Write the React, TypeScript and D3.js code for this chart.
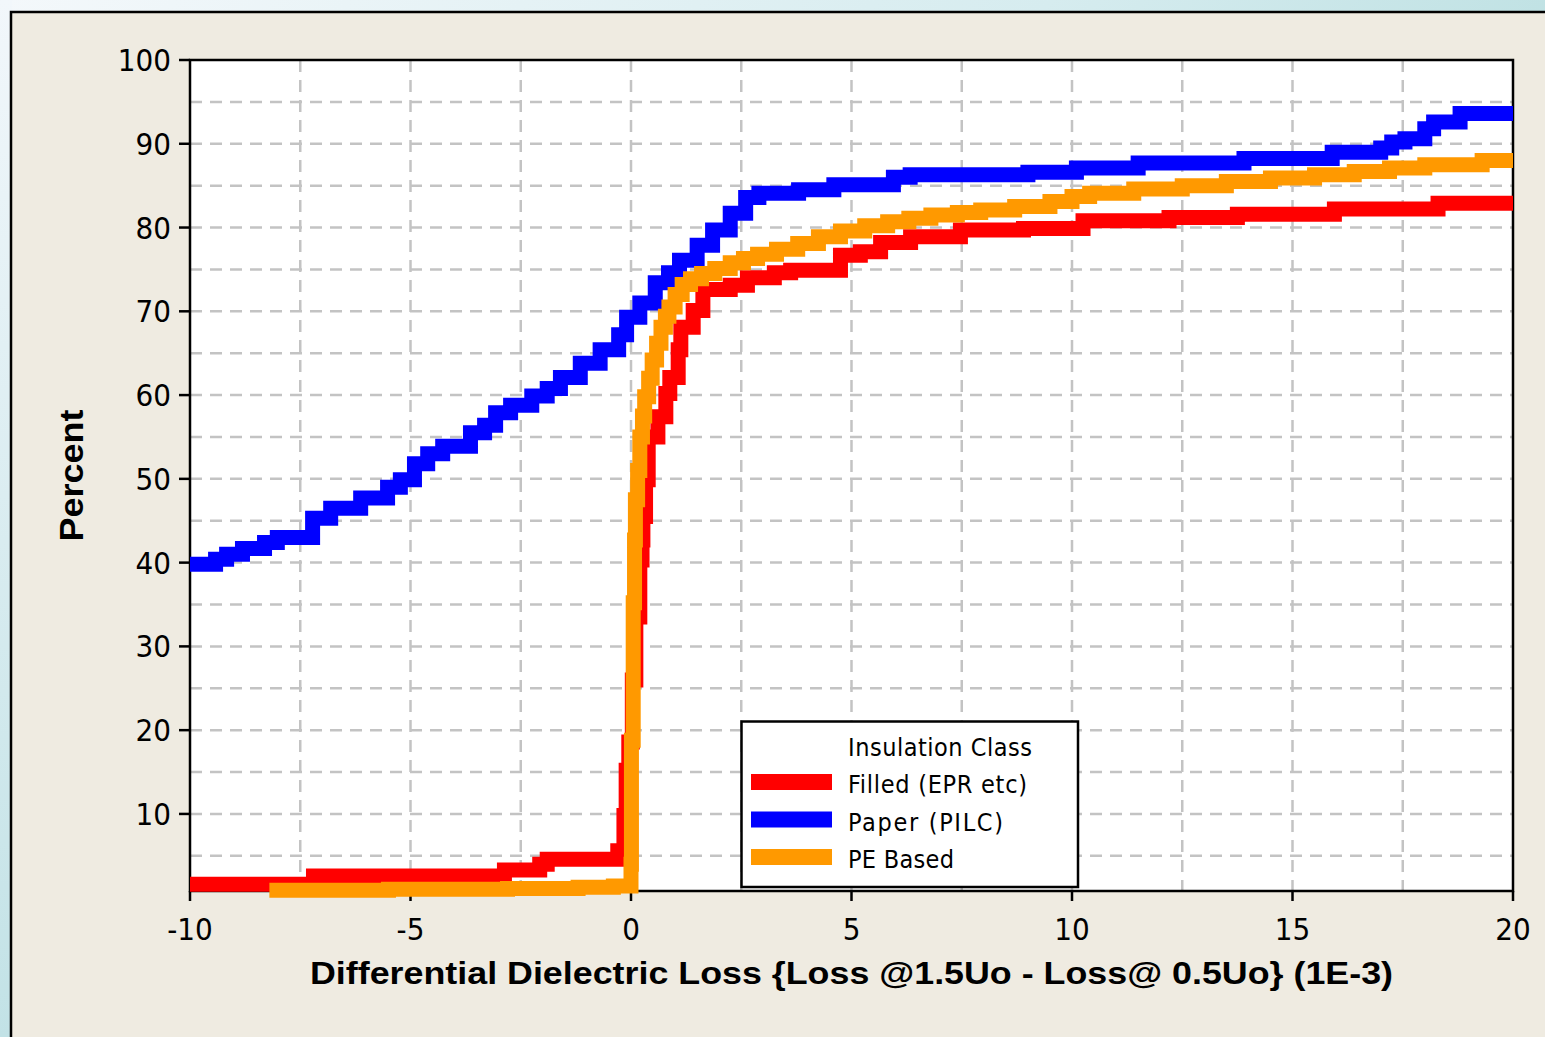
import React from "react";
import * as d3 from "d3";

// ---- data (x: differential loss 1E-3, p: cumulative percent) ----
const filledSeries: [number, number][] = [
  [-10, 1.6], [-7.2, 2.6], [-2.87, 3.3], [-2.07, 4.0], [-1.9, 4.6], [-0.3, 5.6],
  [-0.16, 9.8], [-0.11, 15.2], [-0.05, 18.6], [0.03, 26], [0.11, 33.5], [0.2, 40.3],
  [0.25, 42.7], [0.27, 45.5], [0.33, 49.9], [0.39, 55.0], [0.61, 57.4], [0.79, 60.2],
  [0.88, 62.1], [1.07, 65.4], [1.13, 68.1], [1.41, 70.1], [1.63, 72.6], [2.25, 73.1],
  [2.64, 74.0], [3.25, 74.6], [3.62, 74.9], [4.75, 76.7], [5.2, 77.1], [5.66, 78.2],
  [6.34, 78.9], [7.47, 79.7], [8.9, 79.9], [10.25, 80.8], [12.2, 81.2], [13.75, 81.6],
  [15.95, 82.2], [18.3, 82.9], [20, 82.9],
];

const paperSeries: [number, number][] = [
  [-10, 39.8], [-9.42, 40.4], [-9.17, 41.0], [-8.81, 41.7], [-8.31, 42.4], [-8.02, 43.0],
  [-7.22, 45.3], [-6.81, 46.5], [-6.13, 47.7], [-5.52, 49.0], [-5.23, 49.9], [-4.91, 51.8],
  [-4.61, 53.0], [-4.27, 53.9], [-3.64, 55.5], [-3.32, 56.4], [-3.07, 57.9], [-2.73, 58.8],
  [-2.25, 59.9], [-1.9, 60.8], [-1.6, 62.1], [-1.15, 63.8], [-0.7, 65.4], [-0.28, 67.2],
  [-0.1, 69.3], [0.2, 71.0], [0.55, 73.4], [0.85, 74.6], [1.1, 76.1], [1.5, 77.9],
  [1.85, 79.7], [2.25, 81.7], [2.6, 83.6], [2.9, 84.1], [3.8, 84.5], [4.6, 85.1],
  [5.95, 86.0], [6.33, 86.3], [9.0, 86.6], [10.1, 87.1], [11.5, 87.7], [13.9, 88.25],
  [15.9, 89.0], [17.0, 89.5], [17.25, 90.2], [17.55, 90.6], [18.0, 91.8], [18.2, 92.6],
  [18.8, 93.6], [20, 93.6],
];

const peSeries: [number, number][] = [
  [-8.2, 0.9], [-5.5, 1.0], [-2.8, 1.1], [-1.2, 1.25], [-0.4, 1.4], [0.0, 4.0],
  [0.01, 18.8], [0.05, 35.2], [0.08, 42.7], [0.1, 47.5], [0.15, 51], [0.2, 55],
  [0.26, 57.5], [0.31, 59.8], [0.4, 62], [0.48, 64.2], [0.58, 66.2], [0.68, 68.1],
  [0.78, 69.4], [0.86, 70.5], [1.0, 72], [1.16, 73.2], [1.35, 73.9], [1.6, 74.5],
  [1.9, 75.1], [2.25, 75.8], [2.55, 76.3], [2.87, 76.8], [3.3, 77.4], [3.78, 78.1],
  [4.25, 78.9], [4.75, 79.6], [5.3, 80.2], [5.82, 80.7], [6.3, 81.1], [6.8, 81.5],
  [7.4, 81.8], [7.93, 82.1], [8.7, 82.5], [9.5, 83.1], [10.0, 83.7], [10.4, 84.1],
  [11.4, 84.6], [12.5, 85.0], [13.5, 85.5], [14.5, 85.9], [15.5, 86.3], [16.4, 86.7],
  [17.2, 87.1], [18.0, 87.5], [19.3, 88.0], [20, 88.0],
];

const seriesNames = ["Filled (EPR etc)", "Paper (PILC)", "PE Based"];
const seriesColors = ["#ff0000", "#0000ff", "#ff9900"];
const legendTitle = "Insulation Class";
const xTicks = [-10, -5, 0, 5, 10, 15, 20];
const yTicks = [10, 20, 30, 40, 50, 60, 70, 80, 90, 100];
const xGrid = [-7.5, -5, -2.5, 0, 2.5, 5, 7.5, 10, 12.5, 15, 17.5];
const yGrid = [5, 10, 15, 20, 25, 30, 35, 40, 45, 50, 55, 60, 65, 70, 75, 80, 85, 90, 95];
const xTitle = "Differential Dielectric Loss {Loss @1.5Uo - Loss@ 0.5Uo} (1E-3)";
const yTitle = "Percent";

const W = 1545;
const H = 1037;
const plot = { left: 190, right: 1513, top: 60, bottom: 891 };

const tickFont = "Tahoma, 'DejaVu Sans Condensed', 'Liberation Sans', Arial, sans-serif";
const titleFont = "Tahoma, 'Liberation Sans', Arial, sans-serif";

export default function App() {
  const x = d3.scaleLinear().domain([-10, 20]).range([plot.left, plot.right]);
  const y = d3.scaleLinear().domain([0.8, 100]).range([plot.bottom, plot.top]);
  const line = d3
    .line<[number, number]>()
    .x((d) => x(d[0]))
    .y((d) => y(d[1]))
    .curve(d3.curveStepAfter);

  const allSeries = [filledSeries, paperSeries, peSeries];

  const legend = { x: 741.5, y: 721.5, w: 336.5, h: 165.5 };
  const legendRows = [782, 819.5, 857];
  const legendWidths = [179, 155, 106];

  return (
    <svg
      width={W}
      height={H}
      style={{ position: "absolute", left: 0, top: 0, display: "block" }}
    >
      <defs>
        <linearGradient id="bg" x1="0" y1="0" x2="1" y2="0.6">
          <stop offset="0" stopColor="#f4f8fb" />
          <stop offset="0.5" stopColor="#d6ecef" />
          <stop offset="1" stopColor="#a9d7d8" />
        </linearGradient>
        <linearGradient id="bgl" x1="0" y1="0" x2="0" y2="1">
          <stop offset="0" stopColor="#f2f7fb" />
          <stop offset="1" stopColor="#c2e2e6" />
        </linearGradient>
      </defs>
      <rect x={0} y={0} width={W} height={H} fill="url(#bg)" />
      <rect x={0} y={0} width={12} height={H} fill="url(#bgl)" />
      <rect
        x={11}
        y={12}
        width={W + 10}
        height={H + 10}
        fill="#efebe1"
        stroke="#000"
        strokeWidth={2.5}
      />

      {/* plot area */}
      <rect
        x={plot.left}
        y={plot.top}
        width={plot.right - plot.left}
        height={plot.bottom - plot.top}
        fill="#ffffff"
      />
      <g stroke="#c3c3c3" strokeWidth={2.5} strokeDasharray="12 8">
        {yGrid.map((v) => (
          <line key={"hy" + v} x1={plot.left} x2={plot.right} y1={y(v)} y2={y(v)} />
        ))}
        {xGrid.map((v) => (
          <line key={"vx" + v} x1={x(v)} x2={x(v)} y1={plot.top} y2={plot.bottom} />
        ))}
      </g>
      <rect
        x={plot.left}
        y={plot.top}
        width={plot.right - plot.left}
        height={plot.bottom - plot.top}
        fill="none"
        stroke="#000"
        strokeWidth={2.5}
      />

      {/* ticks */}
      <g stroke="#000" strokeWidth={2.5}>
        {yTicks.map((v) => (
          <line key={"ty" + v} x1={plot.left - 11} x2={plot.left} y1={y(v)} y2={y(v)} />
        ))}
        {xTicks.map((v) => (
          <line key={"tx" + v} x1={x(v)} x2={x(v)} y1={plot.bottom} y2={plot.bottom + 10} />
        ))}
      </g>
      <g fontFamily={tickFont} fontSize={31} fill="#000">
        {yTicks.map((v) => (
          <text key={"ly" + v} x={plot.left - 19} y={y(v) + 11} textAnchor="end">
            {v}
          </text>
        ))}
        {xTicks.map((v) => (
          <text key={"lx" + v} x={x(v)} y={940} textAnchor="middle">
            {v}
          </text>
        ))}
      </g>

      {/* axis titles */}
      <text
        x={(plot.left + plot.right) / 2}
        y={984}
        textAnchor="middle"
        fontFamily={titleFont}
        fontWeight="bold"
        fontSize={31}
        textLength={1083}
        lengthAdjust="spacingAndGlyphs"
      >
        {xTitle}
      </text>
      <text
        transform={`translate(83, ${(plot.top + plot.bottom) / 2}) rotate(-90)`}
        textAnchor="middle"
        fontFamily={titleFont}
        fontWeight="bold"
        fontSize={33}
        textLength={132}
        lengthAdjust="spacingAndGlyphs"
      >
        {yTitle}
      </text>

      {/* series */}
      {allSeries.map((s, i) => (
        <path
          key={"s" + i}
          d={line(s) || ""}
          fill="none"
          stroke={seriesColors[i]}
          strokeWidth={15}
          strokeLinejoin="miter"
          strokeLinecap="butt"
        />
      ))}

      {/* legend */}
      <rect
        x={legend.x}
        y={legend.y}
        width={legend.w}
        height={legend.h}
        fill="#ffffff"
        stroke="#000"
        strokeWidth={2.5}
      />
      <g fontFamily={tickFont} fontSize={25} fill="#000">
        <text x={848} y={755.5} textLength={184} lengthAdjust="spacing">
          {legendTitle}
        </text>
        {seriesNames.map((name, i) => (
          <g key={"lg" + i}>
            <rect x={751} y={legendRows[i] - 8} width={81} height={16} fill={seriesColors[i]} />
            <text
              x={848}
              y={legendRows[i] + 11}
              textLength={legendWidths[i]}
              lengthAdjust="spacing"
            >
              {name}
            </text>
          </g>
        ))}
      </g>
    </svg>
  );
}
